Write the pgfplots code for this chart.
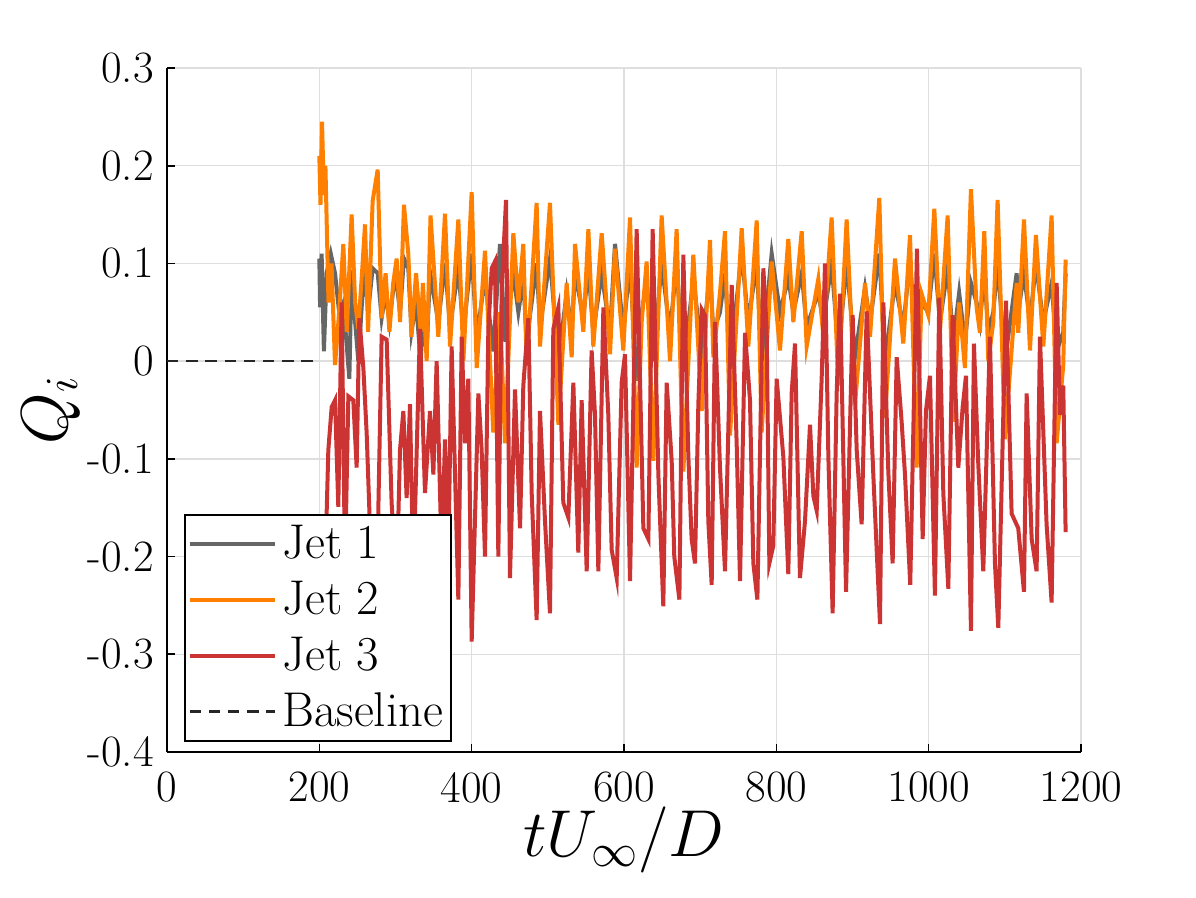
\documentclass[border=0pt]{standalone}
\usepackage{fontspec}
\usepackage{pgfplots}
\pgfplotsset{compat=1.18}
\definecolor{jgray}{RGB}{102,102,102}
\definecolor{jorange}{RGB}{255,128,0}
\definecolor{jred}{RGB}{204,51,51}
\pgfplotstableread{
t v
200 0.105
201 0.055
203 0.11
206 0.01
209.6 0.09
215 0.11
220.6 0.09
226 0.05
231.5 0.06
239.4 -0.018
242.4 0.093
247 0.04
251.2 0.0
256 0.06
260 0.095
264 0.05
270 0.095
276.6 0.09
281.8 0.044
287 0.07
292 0.04
297 0.073
301.5 0.08
306 0.05
311.1 0.105
316.8 0.095
321 0.03
327 0.06
333 0.0
336 0.04
340.9 0.01
345.3 0.091
356.2 0.04
365 0.1
371.6 0.035
382.5 0.095
389.1 0.03
400 0.11
406.6 0.025
417.5 0.085
428.4 0.01
437.2 0.12
443.8 0.02
454.7 0.09
461.3 0.05
467.8 0.085
472.2 0.02
485.3 0.1
489.7 0.035
502.8 0.105
513.8 0.0
524.7 0.07
531.3 0.03
535.7 0.09
546.6 0.045
553.2 0.095
559.7 0.03
570.7 0.09
581.6 0.03
588.2 0.12
599.1 0.03
607.9 0.1
616.6 -0.02
623.2 0.05
629.7 0.08
638.5 0.0
649.4 0.1
660.4 0.03
669.1 0.1
677.9 -0.01
691 0.085
702 0.01
712.9 0.09
717.3 0.03
726 0.05
732.6 0.09
739.2 0.0
754.5 0.11
763.2 0.04
774.2 0.1
780.7 0.0
793.9 0.11
804.8 0.05
815.7 0.085
822.3 0.05
833.3 0.09
839.8 0.035
855.1 0.07
861.7 0.04
872.6 0.1
881.4 0.01
892.3 0.1
903.3 0.005
916.4 0.075
923 0.04
935.2 0.11
942.6 0.0
955.8 0.08
966.7 0.035
975.5 0.105
984.2 0.0
990.7 0.06
999.5 0.05
1007.4 0.11
1014.8 0.04
1024.9 0.095
1032.3 0.02
1040 0.07
1047.6 0.02
1055.5 0.08
1062.9 0.06
1067.3 0.04
1073 0.09
1078.3 0.03
1084.8 0.05
1090.5 0.1
1100.1 0.0
1115.5 0.09
1117.6 0.05
1125.1 0.09
1133 0.04
1140.8 0.1
1150.5 0.04
1161.4 0.08
1168 0.01
1176.7 0.03
1179.8 0.09
}\jetone
\pgfplotstableread{
t v
200 0.21
201.5 0.16
203.5 0.245
206 0.17
208 0.2
212 0.06
216 0.1
220.6 -0.004
226 0.05
231.5 0.12
236 0.03
242.4 0.15
247 0.06
251.2 0.033
256 0.09
260 0.14
264 0.03
270 0.164
276.6 0.196
281.8 0.044
287 0.09
292 0.03
297 0.08
301.5 0.105
306 0.04
311.1 0.16
316.8 0.11
321 0.025
327 0.09
333 0.03
336 0.08
340.9 0.0
346 0.149
356.2 0.025
365 0.151
371.6 0.015
382.5 0.145
389.1 0.0
400 0.173
406.6 -0.007
417.5 0.113
428.4 -0.073
437.2 0.05
443.8 -0.084
454.7 0.131
461.3 0.06
467.8 0.12
472.2 -0.004
485.3 0.162
489.7 0.015
502.8 0.162
513.8 -0.065
524.7 0.08
531.3 0.004
535.7 0.12
546.6 0.03
553.2 0.135
559.7 0.015
570.7 0.131
581.6 0.007
588.2 0.115
599.1 0.011
607.9 0.147
616.6 -0.109
623.2 0.04
629.7 0.102
638.5 -0.102
649.4 0.149
660.4 0.0
669.1 0.135
677.9 -0.113
691 0.109
702 -0.051
712.9 0.124
717.3 0.004
726 0.07
732.6 0.133
739.2 -0.076
754.5 0.136
763.2 0.015
774.2 0.144
780.7 -0.073
793.9 0.102
804.8 0.011
815.7 0.125
822.3 0.04
833.3 0.133
839.8 0.015
855.1 0.084
861.7 0.025
872.6 0.147
881.4 -0.025
892.3 0.145
903.3 -0.044
916.4 0.08
923 0.025
935.2 0.167
942.6 -0.058
955.8 0.105
966.7 0.018
975.5 0.129
984.2 -0.109
990.7 0.069
999.5 0.047
1007.4 0.156
1014.8 0.03
1024.9 0.149
1032.3 -0.062
1040 0.06
1047.6 -0.007
1055.5 0.176
1062.9 0.055
1067.3 0.029
1073 0.133
1078.3 0.0
1084.8 0.04
1090.5 0.165
1100.1 -0.08
1115.5 0.08
1117.6 0.029
1125.1 0.145
1133 0.011
1140.8 0.129
1150.5 0.015
1161.4 0.149
1168 -0.084
1176.7 -0.004
1179.8 0.104
}\jettwo
\pgfplotstableread{
t v
200 -0.20
207.4 -0.22
211.8 -0.091
216.2 -0.047
220.6 -0.04
224.9 -0.149
229.3 0.06
233.7 -0.21
238.1 -0.036
244.6 -0.04
249 -0.109
252.5 0.044
257.8 -0.007
262.1 -0.073
268.7 -0.22
275.3 -0.24
281.8 0.025
288.4 0.022
294.9 -0.145
301.5 -0.23
305.9 -0.091
310.3 -0.051
314.6 -0.14
319 -0.044
323.4 -0.22
332.1 0.033
338.7 -0.135
345.3 -0.051
349.7 -0.116
354 0.0
360.6 -0.2
365 -0.08
369.4 -0.2
373.7 0.015
382.5 -0.244
386.9 0.025
391.3 -0.084
395.6 -0.018
400 -0.287
408.8 -0.033
413.1 -0.091
417.5 -0.2
421.9 0.033
426.3 0.095
430.6 0.102
435 -0.2
439.4 0.073
445.1 0.165
450.3 -0.222
456.9 -0.029
463.5 -0.171
467.8 -0.025
474.4 0.044
478.8 -0.135
485.3 -0.265
489.7 -0.051
496.3 -0.164
502.8 -0.258
507.2 0.033
513.8 0.055
520.3 -0.145
526.9 -0.16
533.5 -0.022
540 -0.196
544.4 -0.04
551 -0.215
557.5 0.011
561.9 -0.055
566.3 -0.215
572.9 0.055
579.4 -0.055
583.8 -0.193
590.4 -0.222
596.9 -0.022
601.3 0.007
607.9 -0.225
616.6 0.135
625.4 -0.171
632 -0.182
637.6 0.135
645.1 -0.116
651.6 -0.251
656 -0.022
662.6 -0.102
666 -0.2
672.7 -0.244
677.9 0.109
684.5 -0.098
688.8 -0.182
693.2 -0.207
697.6 -0.044
702 0.053
706.3 0.047
710.7 -0.164
715.1 -0.229
719.5 0.04
726 -0.109
732.6 -0.215
741.4 0.078
747.9 -0.084
752.3 -0.225
758.9 0.029
765.4 -0.04
769.8 -0.207
775.1 -0.244
782.9 0.095
787.3 0.033
790.8 -0.207
796 -0.189
800.4 -0.018
809.2 -0.098
815.7 -0.218
820.1 -0.033
824.5 0.018
831 -0.222
837.6 -0.164
844.2 -0.065
848.6 -0.138
853 -0.153
859.5 -0.018
863.9 0.1
868.3 -0.098
873.9 -0.258
879.2 -0.033
883.6 0.069
891.5 -0.236
900.2 0.047
905.5 -0.091
912 -0.167
918.6 0.051
927.3 -0.116
936.1 -0.269
940.5 0.06
947 -0.113
952.7 -0.207
958 0.004
964.5 -0.062
968.9 -0.116
975.8 -0.229
984.6 0.115
992.1 -0.182
996.4 -0.051
1001.7 -0.015
1008.2 -0.24
1013.9 0.065
1019.2 -0.135
1025.8 -0.233
1031.4 0.047
1038.9 -0.109
1044.6 -0.047
1049 -0.015
1055.5 -0.276
1059.4 0.018
1065.1 -0.105
1071.7 -0.215
1080.4 0.025
1087 -0.207
1091.4 -0.273
1101.5 0.062
1108.9 -0.156
1117.6 -0.171
1125.1 -0.236
1128.6 -0.033
1135.2 -0.182
1141.7 -0.215
1146.1 0.025
1154.8 -0.167
1161.4 -0.247
1168 0.08
1172.4 -0.055
1176.7 -0.025
1179.8 -0.175
}\jetthree
\begin{document}
\begin{tikzpicture}
\begin{axis}[
  at={(0pt,0pt)}, anchor=south west,
  scale only axis, width=342.75pt, height=256.5pt,
  xmin=0, xmax=1200, ymin=-0.4, ymax=0.3,
  axis lines=left, axis line style={-, line width=0.7pt, black},
  xtick={0,200,400,600,800,1000,1200},
  xticklabels={0,200,400,600,800,1000,1200},
  ytick={-0.4,-0.3,-0.2,-0.1,0,0.1,0.2,0.3},
  yticklabels={-0.4,-0.3,-0.2,-0.1,0,0.1,0.2,0.3},
  tick align=inside, major tick length=3pt,
  tick style={line width=0.6pt, black},
  grid=major, grid style={line width=0.5pt, color=black!13},
  ticklabel style={font=\fontsize{16.8}{20}\selectfont},
  xticklabel style={yshift=-4pt},
  yticklabel style={xshift=-1.5pt},
  xlabel={$tU_\infty/D$}, ylabel={$Q_i$},
  label style={font=\fontsize{24}{28}\selectfont},
  xlabel style={at={(axis description cs:0.5,0)}, anchor=center, yshift=-33pt},
  ylabel style={at={(axis description cs:0,0.5)}, anchor=center, yshift=43.5pt},
  legend cell align=left,
  legend image code/.code={\draw[#1] (0pt,0pt) -- (32pt,0pt);},
  legend style={at={(rel axis cs:0.0187,0.0146)}, anchor=south west,
    font=\fontsize{18.3}{21}\selectfont, draw=black, line width=0.6pt,
    fill=white, inner xsep=1pt, inner ysep=2pt, row sep=2.9pt},
]
\addplot[jgray, line width=1.5pt] table[x=t,y=v] {\jetone};
\addlegendentry{Jet 1}
\addplot[jorange, line width=1.5pt] table[x=t,y=v] {\jettwo};
\addlegendentry{Jet 2}
\addplot[jred, line width=1.5pt] table[x=t,y=v] {\jetthree};
\addlegendentry{Jet 3}
\addplot[black!85, line width=1pt, dash pattern=on 4.3pt off 2.9pt] coordinates {(0,0) (200,0)};
\addlegendentry{Baseline}
\end{axis}
\path (-62.625pt,-54.375pt) rectangle (385.875pt,282pt);
\end{tikzpicture}
\end{document}
